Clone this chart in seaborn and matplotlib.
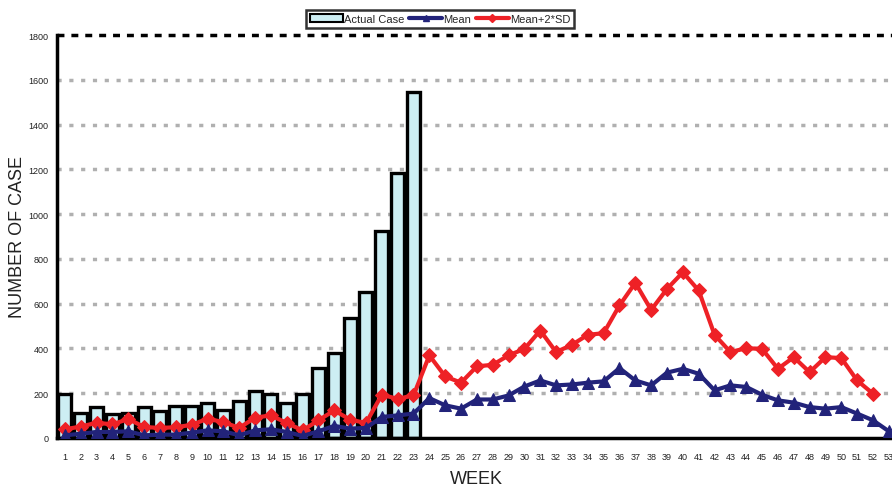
import numpy as np
import pandas as pd
import matplotlib
matplotlib.use("Agg")
import matplotlib.pyplot as plt
import seaborn as sns
from matplotlib.patches import Patch
from matplotlib.lines import Line2D

# Weekly case data
weeks_actual = list(range(1, 24))
actual_case = [195, 113, 137, 106, 112, 137, 120, 141, 141, 155, 126, 164,
               210, 196, 155, 196, 314, 379, 537, 650, 925, 1184, 1544]

weeks_mean = list(range(1, 54))
mean_values = [12, 19, 27, 27, 30, 12, 15, 15, 24, 34, 30, 12, 34, 39, 27, 9,
               30, 54, 42, 45, 94, 101, 109, 178, 146, 131, 172, 172, 190, 230,
               257, 235, 239, 247, 253, 312, 257, 235, 292, 309, 287, 213, 235,
               228, 193, 168, 158, 138, 131, 138, 109, 79, 30]

weeks_sd = list(range(1, 53))
mean_2sd = [39, 51, 68, 61, 85, 49, 45, 48, 59, 86, 71, 45, 91, 101, 67, 34,
            79, 123, 82, 67, 193, 175, 190, 369, 275, 247, 320, 327, 369, 398,
            480, 384, 416, 461, 468, 592, 693, 572, 666, 740, 659, 461, 384,
            401, 398, 309, 361, 294, 361, 357, 257, 198]

y_ticks = [0, 200, 400, 600, 800, 1000, 1200, 1400, 1600, 1800]

bar_color = "#cdeef3"
mean_color = "#22237a"
sd_color = "#ee2126"
tick_font = ["Liberation Sans Narrow", "Liberation Sans", "DejaVu Sans"]

sns.set_theme(style="white")
plt.rcParams["font.family"] = ["Liberation Sans", "DejaVu Sans"]

fig = plt.figure(figsize=(8.92, 4.89), dpi=100)
ax = fig.add_axes([57 / 892, 50 / 489, 1 - 57 / 892, (439 - 36) / 489])

bars_df = pd.DataFrame({"week": weeks_actual, "cases": actual_case})
mean_df = pd.DataFrame({"week": weeks_mean, "value": mean_values})
sd_df = pd.DataFrame({"week": weeks_sd, "value": mean_2sd})

sns.barplot(data=bars_df, x="week", y="cases", native_scale=True, width=0.82,
            color=bar_color, edgecolor="black", linewidth=2.4, saturation=1,
            ax=ax, zorder=2)
sns.lineplot(data=sd_df, x="week", y="value", color=sd_color, linewidth=3,
             marker="D", markersize=7, markeredgecolor=sd_color, ax=ax, zorder=3)
sns.lineplot(data=mean_df, x="week", y="value", color=mean_color, linewidth=3,
             marker="^", markersize=8, markeredgecolor=mean_color, ax=ax, zorder=4)

ax.set_xlim(0.5, 53.2)
ax.set_ylim(0, 1800)
ax.set_yticks(y_ticks)
ax.set_xticks(weeks_mean)
ax.set_xticklabels([str(w) for w in weeks_mean], fontsize=6.5, family=tick_font)
ax.set_yticklabels([str(v) for v in y_ticks], fontsize=6.5, family=tick_font)
ax.tick_params(axis="x", direction="out", length=4, width=1.5, colors="black",
               pad=6, labelcolor="#222222")
ax.tick_params(axis="y", direction="out", length=3, width=1.5, colors="black",
               pad=3, labelcolor="#222222")

# dotted grey gridlines, dashed black top line
for v in y_ticks[1:-1]:
    ax.axhline(v, color="#b0b0b0", linestyle=(0, (1.2, 2.2)), linewidth=2.5, zorder=1)
ax.axhline(1800, color="black", linestyle=(0, (2, 2)), linewidth=2.5, zorder=1,
           clip_on=False)

for side in ["right", "top"]:
    ax.spines[side].set_visible(False)
ax.spines["left"].set_color("black")
ax.spines["left"].set_linewidth(2.5)
ax.spines["bottom"].set_color("black")
ax.spines["bottom"].set_linewidth(2.5)

ax.set_xlabel("WEEK", fontsize=13, color="#222222")
ax.set_ylabel("NUMBER OF CASE", fontsize=13, color="#222222")
ax.xaxis.set_label_coords((476 - 57) / 835, (439 - 471) / 403)
ax.yaxis.set_label_coords((26 - 57) / 835, 0.5)

handles = [
    Patch(facecolor=bar_color, edgecolor="black", linewidth=1.5, label="Actual Case"),
    Line2D([0], [0], color=mean_color, linewidth=3, marker="^", markersize=5, label="Mean"),
    Line2D([0], [0], color=sd_color, linewidth=3, marker="D", markersize=4, label="Mean+2*SD"),
]
leg = fig.legend(handles=handles, loc="center", bbox_to_anchor=(440 / 892, 1 - 20 / 489),
                 ncol=3, frameon=True, handlelength=3.0,
                 handletextpad=0.1, columnspacing=0.4, borderpad=0.35,
                 fancybox=False, prop={"family": tick_font, "size": 8})
leg.get_frame().set_edgecolor("black")
leg.get_frame().set_linewidth(1.8)
leg.set_zorder(10)

fig.savefig("out.png", dpi=100)
